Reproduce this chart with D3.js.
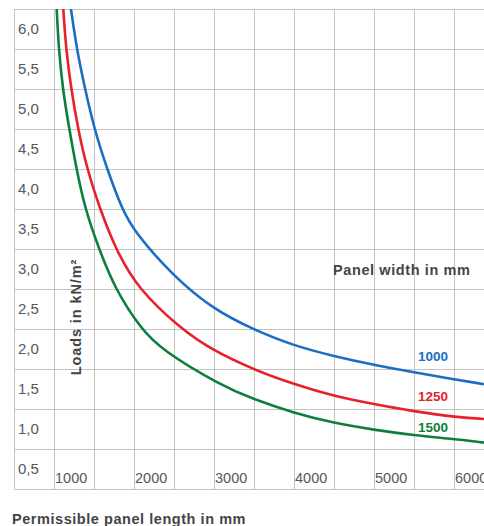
<!DOCTYPE html>
<html>
<head>
<meta charset="utf-8">
<script src="https://cdn.jsdelivr.net/npm/d3@7"></script>
<style>
  html, body { margin: 0; padding: 0; background: #ffffff; }
  svg { display: block; }
  text { font-family: "Liberation Sans", Arial, Helvetica, sans-serif; }
</style>
</head>
<body>
<div id="chart"></div>
<script>
// ---- Data ----
const seriesNames = ["1000", "1250", "1500"];   // panel width in mm
const seriesColors = ["#1b6ec2", "#e8202a", "#0e7e3e"];

const lengths1000 = [1212, 1284, 1388, 1504, 1663, 1850, 2000, 2500, 3000, 3500, 4000, 4500, 5000, 5500, 6000, 6375];
const loads1000   = [6.0, 5.5, 5.0, 4.5, 4.0, 3.5, 3.22, 2.65, 2.24, 1.99, 1.79, 1.66, 1.55, 1.46, 1.37, 1.31];

const lengths1250 = [1116, 1150, 1215, 1300, 1413, 1575, 1769, 2050, 2588, 2971, 3500, 4000, 4500, 5000, 5500, 6000, 6375];
const loads1250   = [6.0, 5.5, 5.0, 4.5, 4.0, 3.5, 3.0, 2.5, 2.0, 1.74, 1.49, 1.31, 1.16, 1.06, 0.97, 0.90, 0.875];

const lengths1500 = [1034, 1059, 1109, 1191, 1281, 1388, 1563, 1763, 2088, 2346, 3075, 3500, 4000, 4500, 5000, 5500, 6000, 6375];
const loads1500   = [6.0, 5.5, 5.0, 4.5, 4.0, 3.5, 3.0, 2.5, 2.0, 1.74, 1.30, 1.12, 0.95, 0.825, 0.74, 0.67, 0.625, 0.58];

const xTickLabels = [1000, 2000, 3000, 4000, 5000, 6000];
const yTickLabels = [0.5, 1.0, 1.5, 2.0, 2.5, 3.0, 3.5, 4.0, 4.5, 5.0, 5.5, 6.0];
const xGridValues = [500, 1000, 1500, 2000, 2500, 3000, 3500, 4000, 4500, 5000, 5500, 6000, 6500];
const yGridValues = [0, 0.5, 1.0, 1.5, 2.0, 2.5, 3.0, 3.5, 4.0, 4.5, 5.0, 5.5, 6.0];

const yTitle = "Loads in kN/m²";
const xTitle = "Permissible panel length in mm";
const legendTitle = "Panel width in mm";

// ---- Layout ----
const W = 484, H = 526;
const pLeft = 14, pTop = 9, pBottom = 489, pRight = 494;

const x = d3.scaleLinear().domain([500, 6500]).range([pLeft, pRight]);
const y = d3.scaleLinear().domain([0, 6]).range([pBottom, pTop]);

const fmt = d3.formatLocale({decimal: ",", thousands: ".", grouping: [3], currency: ["", "€"]}).format(".1f");

const svg = d3.select("#chart").append("svg")
  .attr("width", W).attr("height", H);

// Grid via axes
const gridColor = "#c3c3c3";
const xGrid = svg.append("g")
  .attr("transform", `translate(0,${pBottom})`)
  .call(d3.axisBottom(x).tickValues(xGridValues).tickSize(-(pBottom - pTop)).tickFormat(""));
const yGrid = svg.append("g")
  .attr("transform", `translate(${pLeft},0)`)
  .call(d3.axisLeft(y).tickValues(yGridValues).tickSize(-(pRight - pLeft)).tickFormat(""));
[xGrid, yGrid].forEach(g => {
  g.select(".domain").remove();
  g.selectAll(".tick line").attr("stroke", gridColor).attr("stroke-width", 1.4).attr("shape-rendering", "crispEdges");
});

// Tick labels (inside cells)
svg.append("g").selectAll("text").data(yTickLabels).join("text")
  .attr("x", pLeft + 4)
  .attr("y", d => y(d) + 24.5)
  .attr("font-size", 15)
  .attr("fill", "#58585a")
  .text(d => fmt(d));

svg.append("g").selectAll("text").data(xTickLabels).join("text")
  .attr("x", d => x(d) + 1)
  .attr("y", pBottom - 6)
  .attr("font-size", 14.5)
  .attr("fill", "#58585a")
  .text(d => d);

// Curves
const series = [
  {name: seriesNames[0], color: seriesColors[0], pts: d3.zip(lengths1000, loads1000)},
  {name: seriesNames[1], color: seriesColors[1], pts: d3.zip(lengths1250, loads1250)},
  {name: seriesNames[2], color: seriesColors[2], pts: d3.zip(lengths1500, loads1500)}
];

svg.append("clipPath").attr("id", "plotclip")
  .append("rect").attr("x", pLeft).attr("y", pTop).attr("width", pRight - pLeft).attr("height", pBottom - pTop);

const line = d3.line()
  .x(d => x(d[0]))
  .y(d => y(d[1]))
  .curve(d3.curveBasis);

svg.append("g").attr("clip-path", "url(#plotclip)")
  .selectAll("path").data(series).join("path")
  .attr("d", d => line(d.pts))
  .attr("fill", "none")
  .attr("stroke", d => d.color)
  .attr("stroke-width", 2.6)
  .attr("stroke-linejoin", "round");

// Series labels
const labelY = [360.5, 400.5, 432];
svg.append("g").selectAll("text").data(series).join("text")
  .attr("x", 433)
  .attr("y", (d, i) => labelY[i])
  .attr("text-anchor", "middle")
  .attr("font-size", 13.5)
  .attr("font-weight", "bold")
  .attr("fill", d => d.color)
  .text(d => d.name);

// Titles
svg.append("text")
  .attr("x", 333).attr("y", 275)
  .attr("font-size", 14.5).attr("font-weight", "bold")
  .attr("letter-spacing", 0.6)
  .attr("fill", "#444446")
  .text(legendTitle);

svg.append("text")
  .attr("transform", "translate(81,317) rotate(-90)")
  .attr("text-anchor", "middle")
  .attr("font-size", 14.5).attr("font-weight", "bold")
  .attr("letter-spacing", 0.9)
  .attr("fill", "#444446")
  .text(yTitle);

svg.append("text")
  .attr("x", 12).attr("y", 524)
  .attr("font-size", 14.5).attr("font-weight", "bold")
  .attr("letter-spacing", 0.55)
  .attr("fill", "#444446")
  .text(xTitle);
</script>
</body>
</html>
